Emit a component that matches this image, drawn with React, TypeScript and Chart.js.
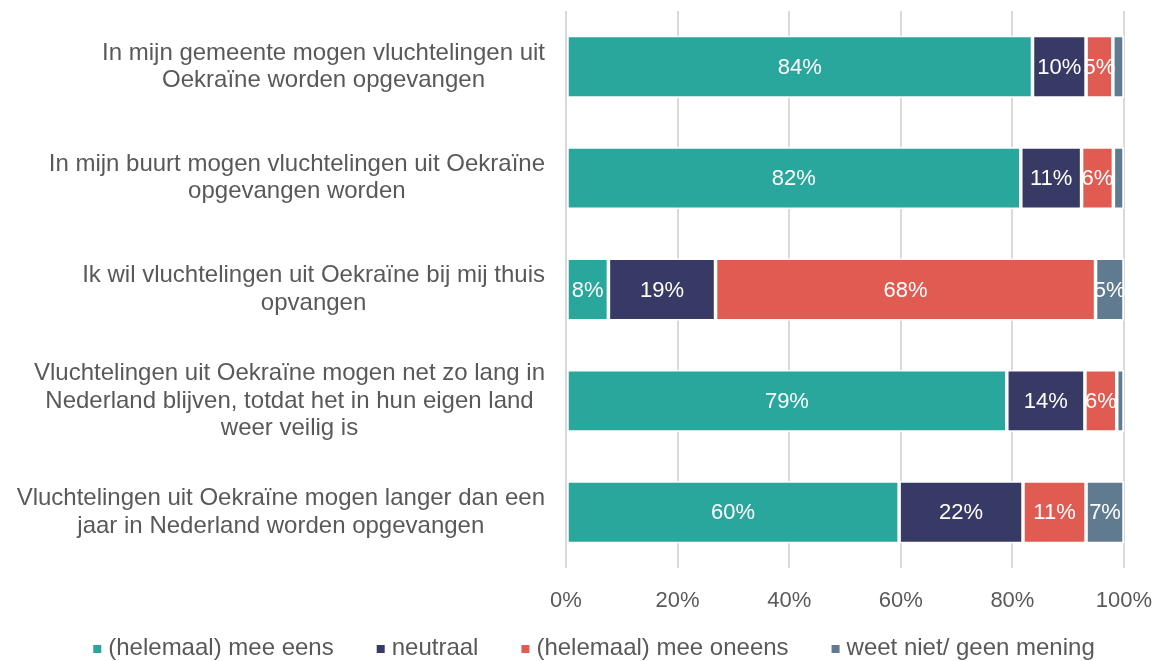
import React, { useEffect, useRef } from "react";
import { Chart, registerables } from "chart.js";

Chart.register(...registerables);

// ---- data ----
const categoryLines: string[][] = [
  ["In mijn gemeente mogen vluchtelingen uit", "Oekraïne worden opgevangen"],
  ["In mijn buurt mogen vluchtelingen uit Oekraïne", "opgevangen worden"],
  ["Ik wil vluchtelingen uit Oekraïne bij mij thuis", "opvangen"],
  [
    "Vluchtelingen uit Oekraïne mogen net zo lang in",
    "Nederland blijven, totdat het in hun eigen land",
    "weer veilig is",
  ],
  ["Vluchtelingen uit Oekraïne mogen langer dan een", "jaar in Nederland worden opgevangen"],
];
const categories = categoryLines.map((l) => l.join(" "));

const seriesNames = [
  "(helemaal) mee eens",
  "neutraal",
  "(helemaal) mee oneens",
  "weet niet/ geen mening",
];
const agreeValues = [83.6, 81.5, 7.6, 79.0, 59.7];
const neutralValues = [9.6, 10.9, 19.2, 14.0, 22.2];
const disagreeValues = [4.8, 5.7, 68.1, 5.7, 11.3];
const unknownValues = [2.0, 1.9, 5.1, 1.3, 6.8];
const xTickValues = [0, 20, 40, 60, 80, 100];

const seriesColors = ["#2aa79c", "#383a66", "#e05c52", "#607b8f"];

const FONT = '"Liberation Sans", Arial, sans-serif';
const TEXT_COLOR = "#595959";

// ---- plugins ----
const yLabelPlugin = {
  id: "yLabelPlugin",
  afterDraw(chart: any) {
    const { ctx, chartArea } = chart;
    const yScale = chart.scales.y;
    const lh = 27.5;
    ctx.save();
    ctx.font = `24px ${FONT}`;
    ctx.fillStyle = TEXT_COLOR;
    ctx.textAlign = "center";
    ctx.textBaseline = "middle";
    const right = chartArea.left - 21;
    categoryLines.forEach((lines, i) => {
      const widest = Math.max(...lines.map((t) => ctx.measureText(t).width));
      const cx = right - widest / 2;
      const cy = yScale.getPixelForValue(i);
      const y0 = cy - ((lines.length - 1) * lh) / 2;
      lines.forEach((t, k) => ctx.fillText(t, cx, y0 + k * lh));
    });
    ctx.restore();
  },
};

const valueLabelPlugin = {
  id: "valueLabelPlugin",
  afterDatasetsDraw(chart: any) {
    const { ctx } = chart;
    ctx.save();
    ctx.font = `22px ${FONT}`;
    ctx.fillStyle = "#ffffff";
    ctx.textAlign = "center";
    ctx.textBaseline = "middle";
    chart.data.datasets.forEach((ds: any, di: number) => {
      const meta = chart.getDatasetMeta(di);
      meta.data.forEach((el: any, i: number) => {
        const v = ds.data[i];
        if (v < 3) return;
        const cx = (el.x + el.base) / 2;
        ctx.fillText(`${Math.round(v)}%`, cx, el.y + 1);
      });
    });
    ctx.restore();
  },
};

const legendPlugin = {
  id: "customLegend",
  afterDraw(chart: any) {
    const { ctx } = chart;
    const box = 8;
    const boxGap = 7;
    const itemGap = 43;
    const cy = 648;
    ctx.save();
    ctx.font = `24px ${FONT}`;
    ctx.textBaseline = "middle";
    ctx.textAlign = "left";
    const widths = chart.data.datasets.map(
      (ds: any) => box + boxGap + ctx.measureText(ds.label).width
    );
    const total = widths.reduce((a: number, b: number) => a + b, 0) + itemGap * (widths.length - 1);
    let x = 594 - total / 2;
    chart.data.datasets.forEach((ds: any, i: number) => {
      ctx.fillStyle = ds.backgroundColor;
      ctx.fillRect(x, cy - box / 2 + 1, box, box);
      ctx.fillStyle = TEXT_COLOR;
      ctx.fillText(ds.label, x + box + boxGap, cy);
      x += widths[i] + itemGap;
    });
    ctx.restore();
  },
};

export default function App() {
  const canvasRef = useRef<HTMLCanvasElement | null>(null);

  useEffect(() => {
    if (!canvasRef.current) return;
    const valueSets = [agreeValues, neutralValues, disagreeValues, unknownValues];
    const chart = new Chart(canvasRef.current, {
      type: "bar",
      data: {
        labels: categories,
        datasets: seriesNames.map((name, i) => ({
          label: name,
          data: valueSets[i],
          backgroundColor: seriesColors[i],
          borderColor: "#ffffff",
          borderWidth: 1.75,
          borderSkipped: false,
          barPercentage: 0.56,
          categoryPercentage: 1,
        })),
      },
      options: {
        indexAxis: "y",
        animation: false,
        responsive: false,
        layout: { padding: { top: 11, right: 50, bottom: 0, left: 0 } },
        plugins: {
          legend: { display: false },
          tooltip: { enabled: false },
        },
        scales: {
          x: {
            stacked: true,
            min: 0,
            max: 100,
            afterBuildTicks: (s: any) => {
              s.ticks = xTickValues.map((v) => ({ value: v }));
            },
            afterFit: (s: any) => {
              s.height = 93;
            },
            grid: { color: "#d9d9d9", lineWidth: 2, drawTicks: false },
            border: { display: false },
            ticks: {
              padding: 20,
              color: TEXT_COLOR,
              font: { family: FONT, size: 22 },
              callback: (v: any) => `${v}%`,
            },
          },
          y: {
            stacked: true,
            afterFit: (s: any) => {
              s.width = 566;
            },
            grid: { display: false },
            border: { display: false },
            ticks: { display: false },
          },
        },
      },
      plugins: [yLabelPlugin, valueLabelPlugin, legendPlugin],
    } as any);
    return () => chart.destroy();
  }, []);

  return (
    <div style={{ position: "fixed", left: 0, top: 0, width: 1174, height: 661, background: "#fff" }}>
      <canvas ref={canvasRef} width={1174} height={661} style={{ display: "block" }} />
    </div>
  );
}
